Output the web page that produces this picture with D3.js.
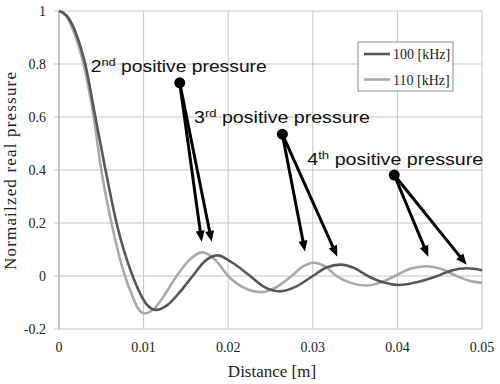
<!DOCTYPE html>
<html>
<head>
<meta charset="utf-8">
<script src="https://cdn.jsdelivr.net/npm/d3@7"></script>
<style>
  body { margin: 0; background: #fff; }
  svg { display: block; }
</style>
</head>
<body>
<div id="chart"></div>
<script>
// values: [distance m, normalized pressure]
const curve100 = [
  [0, 1.0], [0.0005, 0.993], [0.0012, 0.97], [0.0019, 0.925], [0.0025, 0.87],
  [0.0031, 0.8], [0.0043, 0.6], [0.0055, 0.4], [0.0068, 0.2], [0.0087, 0.0],
  [0.0095, -0.06], [0.0103, -0.105], [0.0115, -0.128], [0.0128, -0.11], [0.0143, -0.06],
  [0.0158, 0.0], [0.0172, 0.055], [0.0187, 0.078], [0.0205, 0.05], [0.0226, 0.0],
  [0.0243, -0.042], [0.0261, -0.058], [0.0280, -0.04], [0.0300, 0.0], [0.0316, 0.032],
  [0.0333, 0.043], [0.0349, 0.03], [0.0365, 0.0], [0.0383, -0.024], [0.0402, -0.034],
  [0.0425, -0.022], [0.0447, 0.0], [0.0464, 0.021], [0.0482, 0.029], [0.0500, 0.022]
];
const curve110 = [
  [0, 1.0], [0.0005, 0.992], [0.0011, 0.968], [0.0017, 0.925], [0.0023, 0.87],
  [0.0029, 0.8], [0.0041, 0.6], [0.0050, 0.4], [0.0062, 0.2], [0.0078, 0.0],
  [0.0086, -0.07], [0.0093, -0.12], [0.0101, -0.141], [0.0112, -0.125], [0.0125, -0.07],
  [0.0139, 0.0], [0.0154, 0.06], [0.0169, 0.089], [0.0185, 0.06], [0.0200, 0.0],
  [0.0219, -0.045], [0.0239, -0.061], [0.0257, -0.042], [0.0275, 0.0], [0.0288, 0.035],
  [0.0301, 0.05], [0.0315, 0.035], [0.0328, 0.0], [0.0345, -0.026], [0.0362, -0.036],
  [0.0380, -0.025], [0.0397, 0.0], [0.0415, 0.027], [0.0434, 0.037], [0.0452, 0.026],
  [0.0470, 0.0], [0.0485, -0.018], [0.0500, -0.026]
];
const seriesNames = ["100 [kHz]", "110 [kHz]"];
const xTicks = [0, 0.01, 0.02, 0.03, 0.04, 0.05];
const yTicks = [-0.2, 0, 0.2, 0.4, 0.6, 0.8, 1];
const xTickLabels = ["0", "0.01", "0.02", "0.03", "0.04", "0.05"];
const yTickLabels = ["-0.2", "0", "0.2", "0.4", "0.6", "0.8", "1"];

// annotations: label anchor, dot, arrow tips (data units)
const noteOrdinals = ["2", "3", "4"];
const noteSuffixes = ["nd", "rd", "th"];
const noteLabelPos = [[0.00375, 0.770], [0.01596, 0.577], [0.02935, 0.419]];
const noteDots = [[0.01427, 0.729], [0.02640, 0.535], [0.03963, 0.381]];
const noteTips = [
  [[0.01687, 0.129], [0.01805, 0.129]],
  [[0.02908, 0.092], [0.03290, 0.073]],
  [[0.04365, 0.073], [0.04819, 0.042]]
];

const width = 500, height = 384;
const margin = {top: 11, right: 18, bottom: 55, left: 59};

const svg = d3.select("#chart").append("svg")
    .attr("width", width)
    .attr("height", height);

const x = d3.scaleLinear().domain([0, 0.05]).range([margin.left, width - margin.right]);
const y = d3.scaleLinear().domain([-0.2, 1]).range([height - margin.bottom, margin.top]);

const serif = "'Liberation Serif', 'Times New Roman', serif";
const sans = "'Liberation Sans', Arial, sans-serif";

// grid
svg.append("g").selectAll("line.gx")
    .data(xTicks).enter().append("line")
    .attr("x1", d => x(d)).attr("x2", d => x(d))
    .attr("y1", y(-0.2)).attr("y2", y(1))
    .attr("stroke", "#c4c4c4").attr("stroke-width", 1);
svg.append("g").selectAll("line.gy")
    .data(yTicks).enter().append("line")
    .attr("x1", x(0) - 5).attr("x2", x(0.05))
    .attr("y1", d => y(d)).attr("y2", d => y(d))
    .attr("stroke", "#c4c4c4").attr("stroke-width", 1);
svg.append("line")
    .attr("x1", x(0)).attr("x2", x(0))
    .attr("y1", y(-0.2)).attr("y2", y(1))
    .attr("stroke", "#a8a8a8");

// tick labels
svg.append("g").selectAll("text")
    .data(yTicks).enter().append("text")
    .attr("x", x(0) - 13)
    .attr("y", d => y(d) + 5)
    .attr("text-anchor", "end")
    .attr("font-family", serif).attr("font-size", 14).attr("fill", "#222")
    .text((d, i) => yTickLabels[i]);
svg.append("g").selectAll("text")
    .data(xTicks).enter().append("text")
    .attr("x", d => x(d))
    .attr("y", y(-0.2) + 23)
    .attr("text-anchor", "middle")
    .attr("font-family", serif).attr("font-size", 14).attr("fill", "#222")
    .text((d, i) => xTickLabels[i]);

// axis titles
svg.append("text")
    .attr("x", 272).attr("y", 377)
    .attr("text-anchor", "middle")
    .attr("font-family", serif).attr("font-size", 17).attr("fill", "#222")
    .text("Distance [m]");
svg.append("text")
    .attr("transform", "translate(16," + 171 + ") rotate(-90)")
    .attr("text-anchor", "middle")
    .attr("font-family", serif).attr("font-size", 17).attr("fill", "#222")
    .attr("textLength", 198).attr("lengthAdjust", "spacing")
    .text("Normailzed real pressure");

// curves
const line = d3.line()
    .x(d => x(d[0]))
    .y(d => y(d[1]))
    .curve(d3.curveMonotoneX);
const colors = ["#585858", "#a9a9a9"];
[curve100, curve110].forEach((c, i) => {
    svg.append("path")
        .datum(c)
        .attr("d", line)
        .attr("fill", "none")
        .attr("stroke", colors[i])
        .attr("stroke-width", 2.6);
});
// dark on top
svg.select("path").raise();

// legend
const lg = svg.append("g").attr("transform", "translate(358,42)");
lg.append("rect")
    .attr("width", 95).attr("height", 49)
    .attr("fill", "#fff").attr("stroke", "#8c8c8c").attr("stroke-width", 1);
seriesNames.forEach((name, i) => {
    const yy = 12 + i * 25.5;
    lg.append("line")
        .attr("x1", 6).attr("x2", 32)
        .attr("y1", yy).attr("y2", yy)
        .attr("stroke", colors[i]).attr("stroke-width", 2.6);
    lg.append("text")
        .attr("x", 35).attr("y", yy + 5)
        .attr("font-family", serif).attr("font-size", 14).attr("fill", "#222")
        .text(name);
});

// annotations
const ann = svg.append("g");
noteDots.forEach((dot, i) => {
    const px = x(dot[0]), py = y(dot[1]);
    noteTips[i].forEach(tip => {
        const tx = x(tip[0]), ty = y(tip[1]);
        const dx = tx - px, dy = ty - py;
        const len = Math.sqrt(dx * dx + dy * dy);
        const ux = dx / len, uy = dy / len;
        ann.append("line")
            .attr("x1", px).attr("y1", py)
            .attr("x2", tx - ux * 7).attr("y2", ty - uy * 7)
            .attr("stroke", "#000").attr("stroke-width", 3);
        const bx = tx - ux * 11, by = ty - uy * 11;
        ann.append("path")
            .attr("d", "M" + tx + "," + ty +
                "L" + (bx - uy * 4.5) + "," + (by + ux * 4.5) +
                "L" + (bx + uy * 4.5) + "," + (by - ux * 4.5) + "Z")
            .attr("fill", "#000");
    });
    ann.append("circle")
        .attr("cx", px).attr("cy", py).attr("r", 5.5)
        .attr("fill", "#000");

    const t = ann.append("text")
        .attr("x", x(noteLabelPos[i][0]))
        .attr("y", y(noteLabelPos[i][1]))
        .attr("font-family", sans).attr("font-size", 16.5).attr("fill", "#111")
        .attr("textLength", 176).attr("lengthAdjust", "spacingAndGlyphs");
    t.append("tspan").text(noteOrdinals[i]);
    t.append("tspan").attr("font-size", 11).attr("dy", -6).text(noteSuffixes[i]);
    t.append("tspan").attr("dy", 6).text(" positive pressure");
});
</script>
</body>
</html>
